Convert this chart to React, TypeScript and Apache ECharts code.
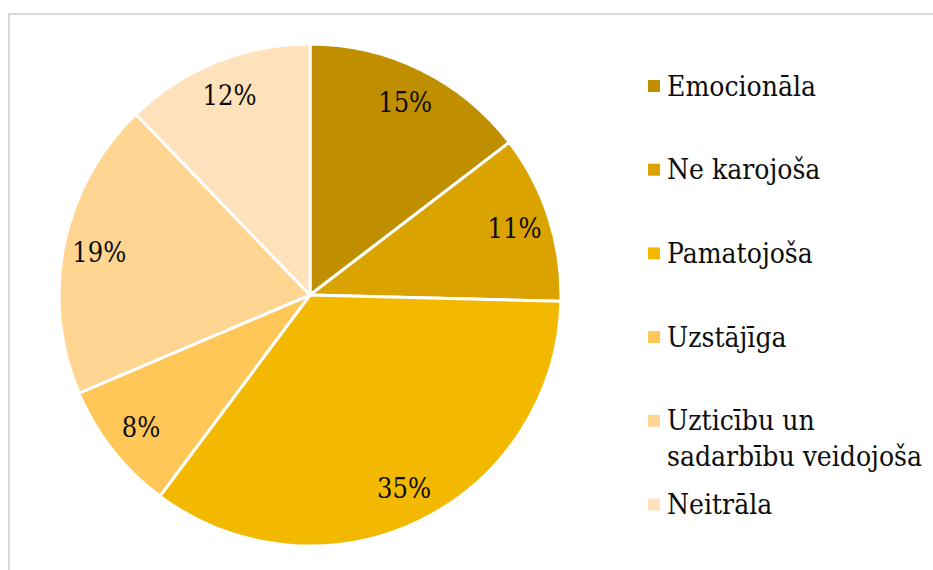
import React, { useEffect, useRef } from "react";
import * as echarts from "echarts";

const categories = [
  "Emocionāla",
  "Ne karojoša",
  "Pamatojoša",
  "Uzstājīga",
  "Uzticību un sadarbību veidojoša",
  "Neitrāla",
];
const legendLabels = [
  "Emocionāla",
  "Ne karojoša",
  "Pamatojoša",
  "Uzstājīga",
  "Uzticību un\nsadarbību veidojoša",
  "Neitrāla",
];
// slice shares (labels show them rounded)
const values = [14.6, 10.8, 34.8, 8.4, 19.2, 12.2];
const colors = ["#BF8F00", "#DAA300", "#F3B800", "#FFC758", "#FFD591", "#FFE1BB"];

const FONT = "DejaVu Serif Condensed";

export default function App() {
  const ref = useRef<HTMLDivElement>(null);
  useEffect(() => {
    document.body.style.margin = "0";
    const chart = echarts.init(ref.current!, null, { renderer: "svg" });
    const data = categories.map((c, i) => ({
      name: c,
      value: values[i],
      itemStyle: { color: colors[i] },
    }));
    const legendTop = 86;
    const legendStep = 83.7;
    const legendGraphics: any[] = [];
    categories.forEach((c, i) => {
      const y = legendTop + legendStep * i;
      legendGraphics.push({
        type: "rect",
        shape: { x: 648, y: y - 6, width: 12, height: 12 },
        style: { fill: colors[i] },
        silent: true,
      });
      legendGraphics.push({
        type: "text",
        x: 667,
        y: y - 18,
        style: {
          text: legendLabels[i],
          fill: "#0d0d0d",
          fontFamily: FONT,
          fontSize: 28,
          lineHeight: 36,
          verticalAlign: "top",
          align: "left",
        },
        silent: true,
      });
    });
    chart.setOption({
      animation: false,
      backgroundColor: "#ffffff",
      graphic: [
        {
          type: "rect",
          shape: { x: 9, y: 14, width: 1000, height: 1000 },
          style: { fill: "none", stroke: "#d9d9d9", lineWidth: 2 },
          silent: true,
          z: -10,
        },
        ...legendGraphics,
      ],
      series: [
        {
          type: "pie",
          center: [310, 295],
          radius: [0, 251],
          startAngle: 90,
          clockwise: true,
          data,
          label: { show: false },
          labelLine: { show: false },
          itemStyle: { borderColor: "#ffffff", borderWidth: 3 },
          emphasis: { disabled: true },
          silent: true,
        },
        {
          type: "pie",
          center: [310, 295],
          radius: [174, 250],
          startAngle: 90,
          clockwise: true,
          data: categories.map((c, i) => ({ name: c, value: values[i] })),
          itemStyle: { color: "transparent", borderWidth: 0 },
          label: {
            show: true,
            position: "inside",
            formatter: (p: any) => Math.round(p.value) + "%",
            color: "#0d0d0d",
            fontFamily: FONT,
            fontSize: 27,
          },
          labelLine: { show: false },
          emphasis: { disabled: true },
          silent: true,
        },
      ],
    });
    return () => chart.dispose();
  }, []);
  return <div ref={ref} style={{ width: 933, height: 570 }} />;
}
